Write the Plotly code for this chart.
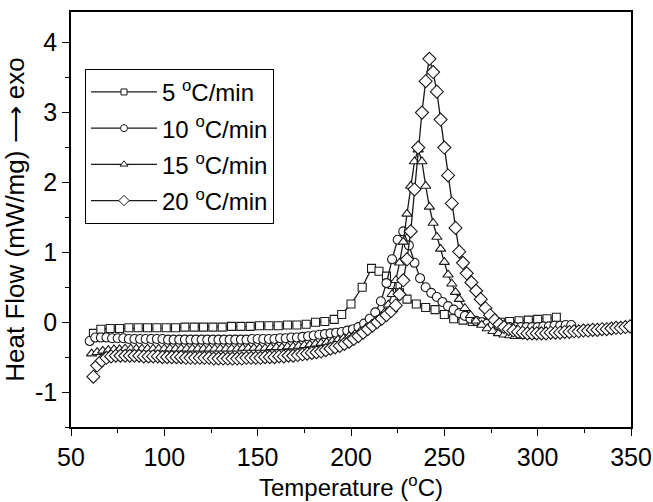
import plotly.graph_objects as go

# DSC exotherms of the resin at four heating rates
t_5 = [62, 66, 71, 76, 81, 86, 91, 96, 101, 106, 111, 116, 121, 126, 131, 136, 141, 146,
       151, 156, 161, 166, 171, 176, 181, 186, 191, 195, 200, 206, 211, 215, 219, 222,
       226, 230, 235, 240, 245, 250, 255, 260, 265, 270, 275, 280, 285, 290, 295, 300,
       305, 310]
h_5 = [-0.16, -0.10, -0.09, -0.09, -0.08, -0.08, -0.08, -0.08, -0.08, -0.08, -0.07, -0.07,
       -0.07, -0.07, -0.07, -0.06, -0.06, -0.06, -0.05, -0.05, -0.05, -0.04, -0.04, -0.03,
       0.00, 0.01, 0.04, 0.11, 0.26, 0.50, 0.77, 0.73, 0.66, 0.54, 0.42, 0.33, 0.26, 0.21,
       0.18, 0.11, 0.05, 0.03, 0.01, 0.00, 0.00, 0.00, 0.01, 0.02, 0.03, 0.04, 0.05, 0.07]

t_10 = [60, 63, 66, 69, 72, 75, 78, 81, 84, 87, 90, 93, 96, 99, 102, 105, 108, 111, 114,
        117, 120, 123, 126, 129, 132, 135, 138, 141, 144, 147, 150, 153, 156, 159, 162, 165,
        168, 171, 174, 177, 180, 183, 186, 189, 192, 195, 198, 201, 204, 207, 210, 213, 216,
        219, 222, 225, 228, 231, 234, 237, 240, 243, 246, 249, 252, 255, 258, 261, 264, 267,
        270, 273, 276, 279, 282, 285, 288, 291, 294, 297, 300, 303, 306, 309, 312, 315, 318]
h_10 = [-0.27, -0.22, -0.22, -0.22, -0.23, -0.23, -0.23, -0.24, -0.24, -0.24, -0.24, -0.24,
        -0.24, -0.24, -0.25, -0.25, -0.25, -0.25, -0.25, -0.25, -0.25, -0.25, -0.25, -0.25,
        -0.25, -0.25, -0.25, -0.25, -0.25, -0.24, -0.24, -0.24, -0.24, -0.24, -0.23, -0.23,
        -0.22, -0.22, -0.21, -0.20, -0.19, -0.18, -0.17, -0.16, -0.15, -0.14, -0.12, -0.10,
        -0.07, -0.02, 0.05, 0.14, 0.30, 0.56, 0.90, 1.18, 1.30, 1.10, 0.85, 0.63, 0.50, 0.42,
        0.36, 0.29, 0.23, 0.18, 0.13, 0.09, 0.05, 0.02, 0.00, -0.02, -0.04, -0.05, -0.06,
        -0.07, -0.07, -0.07, -0.07, -0.07, -0.07, -0.06, -0.06, -0.05, -0.05, -0.04, -0.04]

t_15 = [61, 64, 67, 70, 73, 76, 79, 82, 85, 88, 91, 94, 97, 100, 103, 106, 109, 112, 115,
        118, 121, 124, 127, 130, 133, 136, 139, 142, 145, 148, 151, 154, 157, 160, 163, 166,
        169, 172, 175, 178, 181, 184, 187, 190, 193, 196, 199, 202, 205, 208, 211, 214, 216,
        218, 220, 222, 224, 226, 228, 230, 232, 234, 236, 238, 240, 242, 244, 246, 248, 250,
        252, 254, 256, 258, 261, 264, 267, 270, 273, 276, 279, 282, 285, 288, 291, 294, 297,
        300]
h_15 = [-0.45, -0.43, -0.41, -0.40, -0.39, -0.39, -0.38, -0.38, -0.38, -0.38, -0.38, -0.38,
        -0.38, -0.38, -0.38, -0.38, -0.38, -0.38, -0.38, -0.38, -0.38, -0.38, -0.38, -0.38,
        -0.38, -0.38, -0.38, -0.37, -0.37, -0.37, -0.37, -0.37, -0.36, -0.36, -0.36, -0.35,
        -0.35, -0.34, -0.33, -0.32, -0.31, -0.30, -0.29, -0.27, -0.25, -0.23, -0.20, -0.17,
        -0.13, -0.08, -0.03, 0.03, 0.08, 0.14, 0.25, 0.40, 0.60, 0.85, 1.15, 1.55, 1.95, 2.30,
        2.47, 2.30, 1.95, 1.65, 1.42, 1.22, 1.05, 0.86, 0.68, 0.55, 0.43, 0.33, 0.20, 0.10,
        0.02, -0.04, -0.09, -0.13, -0.16, -0.18, -0.19, -0.20, -0.20, -0.20, -0.20, -0.19]

t_20 = [62, 64, 66.5, 69, 71.5, 74, 76.5, 79, 81.5, 84, 86.5, 89, 91.5, 94, 96.5, 99, 101.5,
        104, 106.5, 109, 111.5, 114, 116.5, 119, 121.5, 124, 126.5, 129, 131.5, 134, 136.5,
        139, 141.5, 144, 146.5, 149, 151.5, 154, 156.5, 159, 161.5, 164, 166.5, 169, 171.5,
        174, 176.5, 179, 181.5, 184, 186.5, 189, 191.5, 194, 196.5, 199, 201.5, 204, 206.5,
        209, 211.5, 214, 216.5, 219, 221.5, 224, 226, 228, 230, 232, 234, 236, 238, 240, 242,
        244, 246, 248, 250, 252, 254, 256, 258, 260, 262, 264.5, 267, 269.5, 272, 274.5, 277,
        279.5, 282, 284.5, 287, 289.5, 292, 294.5, 297, 299.5, 302, 304.5, 307, 309.5, 312,
        314.5, 317, 319.5, 322, 324.5, 327, 329.5, 332, 334.5, 337, 339.5, 342, 344.5, 347,
        349.5]
h_20 = [-0.78, -0.62, -0.55, -0.51, -0.49, -0.48, -0.48, -0.48, -0.48, -0.48, -0.48, -0.49,
        -0.49, -0.49, -0.49, -0.50, -0.50, -0.50, -0.50, -0.50, -0.51, -0.51, -0.51, -0.51,
        -0.51, -0.51, -0.52, -0.52, -0.52, -0.52, -0.52, -0.52, -0.52, -0.51, -0.51, -0.51,
        -0.51, -0.50, -0.50, -0.50, -0.49, -0.49, -0.48, -0.48, -0.47, -0.46, -0.45, -0.44,
        -0.43, -0.42, -0.40, -0.38, -0.36, -0.34, -0.31, -0.28, -0.24, -0.20, -0.15, -0.10,
        -0.05, 0.00, 0.05, 0.10, 0.16, 0.24, 0.40, 0.60, 0.90, 1.30, 1.90, 2.50, 3.00, 3.45,
        3.77, 3.58, 3.30, 2.90, 2.50, 2.10, 1.70, 1.35, 1.01, 0.85, 0.70, 0.57, 0.45, 0.33,
        0.20, 0.10, 0.03, -0.03, -0.07, -0.10, -0.12, -0.14, -0.15, -0.16, -0.16, -0.16,
        -0.16, -0.16, -0.15, -0.15, -0.15, -0.14, -0.14, -0.13, -0.13, -0.12, -0.12, -0.11,
        -0.11, -0.10, -0.10, -0.09, -0.08, -0.08, -0.07, -0.06, -0.05, -0.04]

rates = ["5 <sup>o</sup>C/min", "10 <sup>o</sup>C/min", "15 <sup>o</sup>C/min", "20 <sup>o</sup>C/min"]
temps = [t_5, t_10, t_15, t_20]
flows = [h_5, h_10, h_15, h_20]
symbols = ["square", "circle", "triangle-up", "diamond"]
sizes = [8, 9, 9, 10]
legend_sizes = [6, 7, 7, 8]

x_ticks = [50, 100, 150, 200, 250, 300, 350]
y_ticks = [-1, 0, 1, 2, 3, 4]
y_labels = ["-1", "0", "1", "2", "3", "4"]

FONT = "Liberation Sans, Arial, sans-serif"
INK = "#1a1a1a"

fig = go.Figure()
for i in range(4):
    fig.add_trace(go.Scatter(
        x=temps[i], y=flows[i], name=rates[i], mode="lines+markers",
        showlegend=False,
        line=dict(color=INK, width=1.3),
        marker=dict(symbol=symbols[i], size=sizes[i], color="white",
                    line=dict(width=1.1, color=INK)),
    ))

# legend entries drawn with smaller symbols
for i in range(4):
    fig.add_trace(go.Scatter(
        x=[None], y=[None], name=rates[i], mode="lines+markers",
        legendgroup=str(i),
        line=dict(color=INK, width=1.3),
        marker=dict(symbol=symbols[i], size=legend_sizes[i], color="white",
                    line=dict(width=1.0, color=INK)),
    ))

axis_common = dict(
    showline=True, linecolor="black", linewidth=1.6, mirror=True,
    ticks="outside", ticklen=7, tickwidth=1.4, tickcolor="black",
    showgrid=False, zeroline=False, automargin=False,
    tickfont=dict(family=FONT, size=25, color="black"),
)

fig.update_layout(
    width=653, height=502,
    margin=dict(l=71, r=22, t=12, b=75),
    paper_bgcolor="white", plot_bgcolor="white",
    font=dict(family=FONT, color="black"),
    xaxis=dict(range=[50, 350], tickvals=x_ticks,
               minor=dict(ticks="outside", ticklen=4, tickwidth=1.2, dtick=25, tick0=50,
                          tickcolor="black"),
               title=dict(text="Temperature (<sup>o</sup>C)", font=dict(size=24), standoff=8),
               **axis_common),
    yaxis=dict(range=[-1.5, 4.44], tickvals=y_ticks, ticktext=y_labels,
               minor=dict(ticks="outside", ticklen=4, tickwidth=1.2, dtick=0.5, tick0=0,
                          tickcolor="black"),
               title=dict(text="Heat Flow (mW/mg) \u27f6 exo", font=dict(size=26), standoff=4),
               **axis_common),
    legend=dict(x=0.025, y=0.863, xanchor="left", yanchor="top",
                bordercolor="black", borderwidth=1, bgcolor="white",
                font=dict(family=FONT, size=24, color="black"),
                itemwidth=66, tracegroupgap=2),
    showlegend=True,
)

fig.write_html("out.html")
